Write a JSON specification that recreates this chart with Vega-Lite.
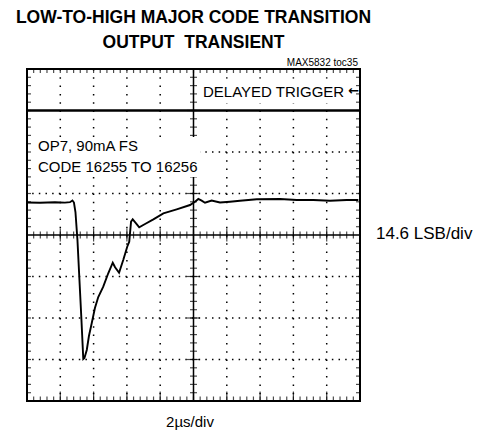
{
  "$schema": "https://vega.github.io/schema/vega-lite/v6.json",
  "width": 333,
  "height": 332,
  "autosize": {"type": "none"},
  "padding": {"left": 27, "top": 69, "right": 117, "bottom": 35},
  "background": "white",
  "config": {"view": {"stroke": "black", "strokeWidth": 2}},
  "title": {
    "text": ["LOW-TO-HIGH MAJOR CODE TRANSITION", "OUTPUT\u00a0 TRANSIENT"],
    "font": "Liberation Sans",
    "fontWeight": "bold",
    "fontSize": 17.5,
    "lineHeight": 24.5,
    "anchor": "middle",
    "frame": "group",
    "offset": 7,
    "color": "black"
  },
  "datasets": {
    "one": [{}],
    "trace": [
      {"t": 0, "v": 11.43}, {"t": 0.78, "v": 11.33}, {"t": 1.68, "v": 11.5}, {"t": 2.28, "v": 11.4},
      {"t": 2.58, "v": 11.54}, {"t": 2.73, "v": 12.14}, {"t": 2.82, "v": 11.43}, {"t": 2.91, "v": 8.09},
      {"t": 3.03, "v": -1.76}, {"t": 3.15, "v": -15.83}, {"t": 3.27, "v": -29.9}, {"t": 3.38, "v": -43.62},
      {"t": 3.45, "v": -43.27}, {"t": 3.59, "v": -40.46}, {"t": 3.72, "v": -35.53}, {"t": 3.89, "v": -30.96},
      {"t": 4.08, "v": -25.68}, {"t": 4.28, "v": -21.81}, {"t": 4.58, "v": -18.19}, {"t": 4.88, "v": -13.47},
      {"t": 5.15, "v": -9.75}, {"t": 5.29, "v": -11.36}, {"t": 5.53, "v": -13.26}, {"t": 5.78, "v": -8.8},
      {"t": 6.02, "v": -4.12}, {"t": 6.14, "v": -2.36}, {"t": 6.25, "v": 4.68}, {"t": 6.35, "v": 5.52},
      {"t": 6.55, "v": 4.12}, {"t": 6.74, "v": 2.71}, {"t": 7.09, "v": 3.87}, {"t": 7.59, "v": 5.52},
      {"t": 8.19, "v": 7.63}, {"t": 8.99, "v": 9.04}, {"t": 9.79, "v": 10.55}, {"t": 10.09, "v": 11.72},
      {"t": 10.29, "v": 12.67}, {"t": 10.49, "v": 12.07}, {"t": 10.69, "v": 11.36}, {"t": 11.09, "v": 12.14},
      {"t": 11.59, "v": 11.43}, {"t": 12.19, "v": 11.72}, {"t": 12.79, "v": 12.07}, {"t": 13.8, "v": 12.56},
      {"t": 15.2, "v": 12.67}, {"t": 16.2, "v": 12.31}, {"t": 17.2, "v": 12.31}, {"t": 18.2, "v": 12.07},
      {"t": 19.2, "v": 12.31}, {"t": 19.9, "v": 12.31}
    ],
    "xdiv": [{"t": 2}, {"t": 4}, {"t": 6}, {"t": 8}, {"t": 10}, {"t": 12}, {"t": 14}, {"t": 16}, {"t": 18}],
    "ydiv": [{"v": -43.8}, {"v": -29.2}, {"v": -14.6}, {"v": 14.6}, {"v": 29.2}, {"v": 43.8}],
    "xminor": [
      {"t": 0.4}, {"t": 0.8}, {"t": 1.2}, {"t": 1.6}, {"t": 2}, {"t": 2.4}, {"t": 2.8}, {"t": 3.2}, {"t": 3.6}, {"t": 4},
      {"t": 4.4}, {"t": 4.8}, {"t": 5.2}, {"t": 5.6}, {"t": 6}, {"t": 6.4}, {"t": 6.8}, {"t": 7.2}, {"t": 7.6}, {"t": 8},
      {"t": 8.4}, {"t": 8.8}, {"t": 9.2}, {"t": 9.6}, {"t": 10}, {"t": 10.4}, {"t": 10.8}, {"t": 11.2}, {"t": 11.6}, {"t": 12},
      {"t": 12.4}, {"t": 12.8}, {"t": 13.2}, {"t": 13.6}, {"t": 14}, {"t": 14.4}, {"t": 14.8}, {"t": 15.2}, {"t": 15.6}, {"t": 16},
      {"t": 16.4}, {"t": 16.8}, {"t": 17.2}, {"t": 17.6}, {"t": 18}, {"t": 18.4}, {"t": 18.8}, {"t": 19.2}, {"t": 19.6}
    ],
    "yminor": [
      {"v": -55.48}, {"v": -52.56}, {"v": -49.64}, {"v": -46.72}, {"v": -43.8}, {"v": -40.88}, {"v": -37.96}, {"v": -35.04},
      {"v": -32.12}, {"v": -29.2}, {"v": -26.28}, {"v": -23.36}, {"v": -20.44}, {"v": -17.52}, {"v": -14.6}, {"v": -11.68},
      {"v": -8.76}, {"v": -5.84}, {"v": -2.92}, {"v": 2.92}, {"v": 5.84}, {"v": 8.76}, {"v": 11.68}, {"v": 14.6},
      {"v": 17.52}, {"v": 20.44}, {"v": 23.36}, {"v": 26.28}, {"v": 29.2}, {"v": 32.12}, {"v": 35.04}, {"v": 37.96},
      {"v": 40.88}, {"v": 43.8}, {"v": 46.72}, {"v": 49.64}, {"v": 52.56}, {"v": 55.48}
    ]
  },
  "layer": [
    {
      "data": {"name": "xdiv"},
      "transform": [{"filter": "datum.t != 10"}],
      "mark": {"type": "rule", "color": "black", "strokeWidth": 1.5, "strokeDash": [1.5, 6.8]},
      "encoding": {
        "x": {"field": "t", "type": "quantitative", "scale": {"domain": [0, 20], "nice": false, "zero": false}, "axis": null}
      }
    },
    {
      "data": {"name": "ydiv"},
      "transform": [{"filter": "datum.v < 40"}],
      "mark": {"type": "rule", "color": "black", "strokeWidth": 1.5, "strokeDash": [1.5, 5.16]},
      "encoding": {
        "y": {"field": "v", "type": "quantitative", "scale": {"domain": [-58.4, 58.4], "nice": false, "zero": false}, "axis": null}
      }
    },
    {
      "data": {"name": "one"},
      "mark": {"type": "rule", "color": "black", "strokeWidth": 1.5},
      "encoding": {
        "y": {"datum": 0, "type": "quantitative", "scale": {"domain": [-58.4, 58.4], "nice": false, "zero": false}, "axis": null}
      }
    },
    {
      "data": {"name": "one"},
      "mark": {"type": "rule", "color": "black", "strokeWidth": 1.5},
      "encoding": {
        "x": {"datum": 10, "type": "quantitative", "scale": {"domain": [0, 20], "nice": false, "zero": false}, "axis": null}
      }
    },
    {
      "data": {"name": "one"},
      "mark": {"type": "rule", "color": "black", "strokeWidth": 2.6},
      "encoding": {
        "y": {"datum": 43.8, "type": "quantitative", "scale": {"domain": [-58.4, 58.4], "nice": false, "zero": false}, "axis": null}
      }
    },
    {
      "data": {"name": "xminor"},
      "mark": {"type": "tick", "orient": "vertical", "color": "black", "size": 7, "thickness": 1.2},
      "encoding": {
        "x": {"field": "t", "type": "quantitative", "scale": {"domain": [0, 20], "nice": false, "zero": false}, "axis": null},
        "y": {"datum": 0, "type": "quantitative", "scale": {"domain": [-58.4, 58.4], "nice": false, "zero": false}, "axis": null}
      }
    },
    {
      "data": {"name": "xdiv"},
      "mark": {"type": "tick", "orient": "vertical", "color": "black", "size": 13, "thickness": 1.2},
      "encoding": {
        "x": {"field": "t", "type": "quantitative", "scale": {"domain": [0, 20], "nice": false, "zero": false}, "axis": null},
        "y": {"datum": 0, "type": "quantitative", "scale": {"domain": [-58.4, 58.4], "nice": false, "zero": false}, "axis": null}
      }
    },
    {
      "data": {"name": "yminor"},
      "mark": {"type": "tick", "orient": "horizontal", "color": "black", "size": 7, "thickness": 1.2},
      "encoding": {
        "x": {"datum": 10, "type": "quantitative", "scale": {"domain": [0, 20], "nice": false, "zero": false}, "axis": null},
        "y": {"field": "v", "type": "quantitative", "scale": {"domain": [-58.4, 58.4], "nice": false, "zero": false}, "axis": null}
      }
    },
    {
      "data": {"name": "ydiv"},
      "mark": {"type": "tick", "orient": "horizontal", "color": "black", "size": 13, "thickness": 1.2},
      "encoding": {
        "x": {"datum": 10, "type": "quantitative", "scale": {"domain": [0, 20], "nice": false, "zero": false}, "axis": null},
        "y": {"field": "v", "type": "quantitative", "scale": {"domain": [-58.4, 58.4], "nice": false, "zero": false}, "axis": null}
      }
    },
    {
      "data": {"name": "xminor"},
      "mark": {"type": "tick", "orient": "vertical", "color": "black", "size": 8, "thickness": 1.2, "clip": true},
      "encoding": {
        "x": {"field": "t", "type": "quantitative", "scale": {"domain": [0, 20], "nice": false, "zero": false}, "axis": null},
        "y": {"datum": 58.4, "type": "quantitative", "scale": {"domain": [-58.4, 58.4], "nice": false, "zero": false}, "axis": null}
      }
    },
    {
      "data": {"name": "xminor"},
      "mark": {"type": "tick", "orient": "vertical", "color": "black", "size": 9, "thickness": 1.2, "clip": true},
      "encoding": {
        "x": {"field": "t", "type": "quantitative", "scale": {"domain": [0, 20], "nice": false, "zero": false}, "axis": null},
        "y": {"datum": -58.4, "type": "quantitative", "scale": {"domain": [-58.4, 58.4], "nice": false, "zero": false}, "axis": null}
      }
    },
    {
      "data": {"name": "xdiv"},
      "mark": {"type": "tick", "orient": "vertical", "color": "black", "size": 19, "thickness": 1.2, "clip": true},
      "encoding": {
        "x": {"field": "t", "type": "quantitative", "scale": {"domain": [0, 20], "nice": false, "zero": false}, "axis": null},
        "y": {"datum": -58.4, "type": "quantitative", "scale": {"domain": [-58.4, 58.4], "nice": false, "zero": false}, "axis": null}
      }
    },
    {
      "data": {"name": "yminor"},
      "mark": {"type": "tick", "orient": "horizontal", "color": "black", "size": 8, "thickness": 1.2, "clip": true},
      "encoding": {
        "x": {"datum": 0, "type": "quantitative", "scale": {"domain": [0, 20], "nice": false, "zero": false}, "axis": null},
        "y": {"field": "v", "type": "quantitative", "scale": {"domain": [-58.4, 58.4], "nice": false, "zero": false}, "axis": null}
      }
    },
    {
      "data": {"name": "yminor"},
      "mark": {"type": "tick", "orient": "horizontal", "color": "black", "size": 8, "thickness": 1.2, "clip": true},
      "encoding": {
        "x": {"datum": 20, "type": "quantitative", "scale": {"domain": [0, 20], "nice": false, "zero": false}, "axis": null},
        "y": {"field": "v", "type": "quantitative", "scale": {"domain": [-58.4, 58.4], "nice": false, "zero": false}, "axis": null}
      }
    },
    {
      "data": {"name": "one"},
      "mark": {"type": "rect", "color": "white", "opacity": 1},
      "encoding": {
        "x": {"datum": 0.25, "type": "quantitative", "scale": {"domain": [0, 20], "nice": false, "zero": false}, "axis": null},
        "x2": {"datum": 10.4},
        "y": {"datum": 34.5, "type": "quantitative", "scale": {"domain": [-58.4, 58.4], "nice": false, "zero": false}, "axis": null},
        "y2": {"datum": 20.4}
      }
    },
    {
      "data": {"name": "one"},
      "mark": {"type": "rect", "color": "white", "opacity": 1},
      "encoding": {
        "x": {"datum": 10.3, "type": "quantitative", "scale": {"domain": [0, 20], "nice": false, "zero": false}, "axis": null},
        "x2": {"datum": 19.75},
        "y": {"datum": 55.0, "type": "quantitative", "scale": {"domain": [-58.4, 58.4], "nice": false, "zero": false}, "axis": null},
        "y2": {"datum": 46.3}
      }
    },
    {
      "data": {"name": "trace"},
      "mark": {"type": "line", "color": "black", "strokeWidth": 1.9, "interpolate": "linear"},
      "encoding": {
        "x": {"field": "t", "type": "quantitative", "scale": {"domain": [0, 20], "nice": false, "zero": false}, "axis": null},
        "y": {"field": "v", "type": "quantitative", "scale": {"domain": [-58.4, 58.4], "nice": false, "zero": false}, "axis": null}
      }
    },
    {
      "data": {"name": "one"},
      "mark": {"type": "text", "text": "DELAYED TRIGGER", "font": "Liberation Sans", "fontSize": 15, "align": "left", "baseline": "alphabetic", "color": "black"},
      "encoding": {
        "x": {"datum": 10.57, "type": "quantitative", "scale": {"domain": [0, 20], "nice": false, "zero": false}, "axis": null},
        "y": {"datum": 48.44, "type": "quantitative", "scale": {"domain": [-58.4, 58.4], "nice": false, "zero": false}, "axis": null}
      }
    },
    {
      "data": {"name": "one"},
      "mark": {"type": "text", "text": "←", "font": "DejaVu Sans", "fontSize": 13, "fontWeight": "bold", "align": "right", "baseline": "middle", "color": "black"},
      "encoding": {
        "x": {"datum": 19.95, "type": "quantitative", "scale": {"domain": [0, 20], "nice": false, "zero": false}, "axis": null},
        "y": {"datum": 50.66, "type": "quantitative", "scale": {"domain": [-58.4, 58.4], "nice": false, "zero": false}, "axis": null}
      }
    },
    {
      "data": {"name": "one"},
      "mark": {"type": "text", "text": "OP7, 90mA FS", "font": "Liberation Sans", "fontSize": 15, "align": "left", "baseline": "alphabetic", "color": "black"},
      "encoding": {
        "x": {"datum": 0.66, "type": "quantitative", "scale": {"domain": [0, 20], "nice": false, "zero": false}, "axis": null},
        "y": {"datum": 29.65, "type": "quantitative", "scale": {"domain": [-58.4, 58.4], "nice": false, "zero": false}, "axis": null}
      }
    },
    {
      "data": {"name": "one"},
      "mark": {"type": "text", "text": "CODE 16255 TO 16256", "font": "Liberation Sans", "fontSize": 15, "align": "left", "baseline": "alphabetic", "color": "black"},
      "encoding": {
        "x": {"datum": 0.66, "type": "quantitative", "scale": {"domain": [0, 20], "nice": false, "zero": false}, "axis": null},
        "y": {"datum": 22.16, "type": "quantitative", "scale": {"domain": [-58.4, 58.4], "nice": false, "zero": false}, "axis": null}
      }
    },
    {
      "data": {"name": "one"},
      "mark": {"type": "text", "text": "MAX5832 toc35", "font": "Liberation Sans", "fontSize": 10, "align": "right", "baseline": "alphabetic", "color": "black"},
      "encoding": {
        "x": {"datum": 19.88, "type": "quantitative", "scale": {"domain": [0, 20], "nice": false, "zero": false}, "axis": null},
        "y": {"datum": 59.45, "type": "quantitative", "scale": {"domain": [-58.4, 58.4], "nice": false, "zero": false}, "axis": null}
      }
    },
    {
      "data": {"name": "one"},
      "mark": {"type": "text", "text": "14.6 LSB/div", "font": "Liberation Sans", "fontSize": 17, "align": "left", "baseline": "middle", "color": "black"},
      "encoding": {
        "x": {"datum": 20.96, "type": "quantitative", "scale": {"domain": [0, 20], "nice": false, "zero": false}, "axis": null},
        "y": {"datum": 0.35, "type": "quantitative", "scale": {"domain": [-58.4, 58.4], "nice": false, "zero": false}, "axis": null}
      }
    },
    {
      "data": {"name": "one"},
      "mark": {"type": "text", "text": "2µs/div", "font": "Liberation Sans", "fontSize": 15, "align": "center", "baseline": "alphabetic", "color": "black"},
      "encoding": {
        "x": {"datum": 9.79, "type": "quantitative", "scale": {"domain": [0, 20], "nice": false, "zero": false}, "axis": null},
        "y": {"datum": -67.44, "type": "quantitative", "scale": {"domain": [-58.4, 58.4], "nice": false, "zero": false}, "axis": null}
      }
    }
  ]
}
